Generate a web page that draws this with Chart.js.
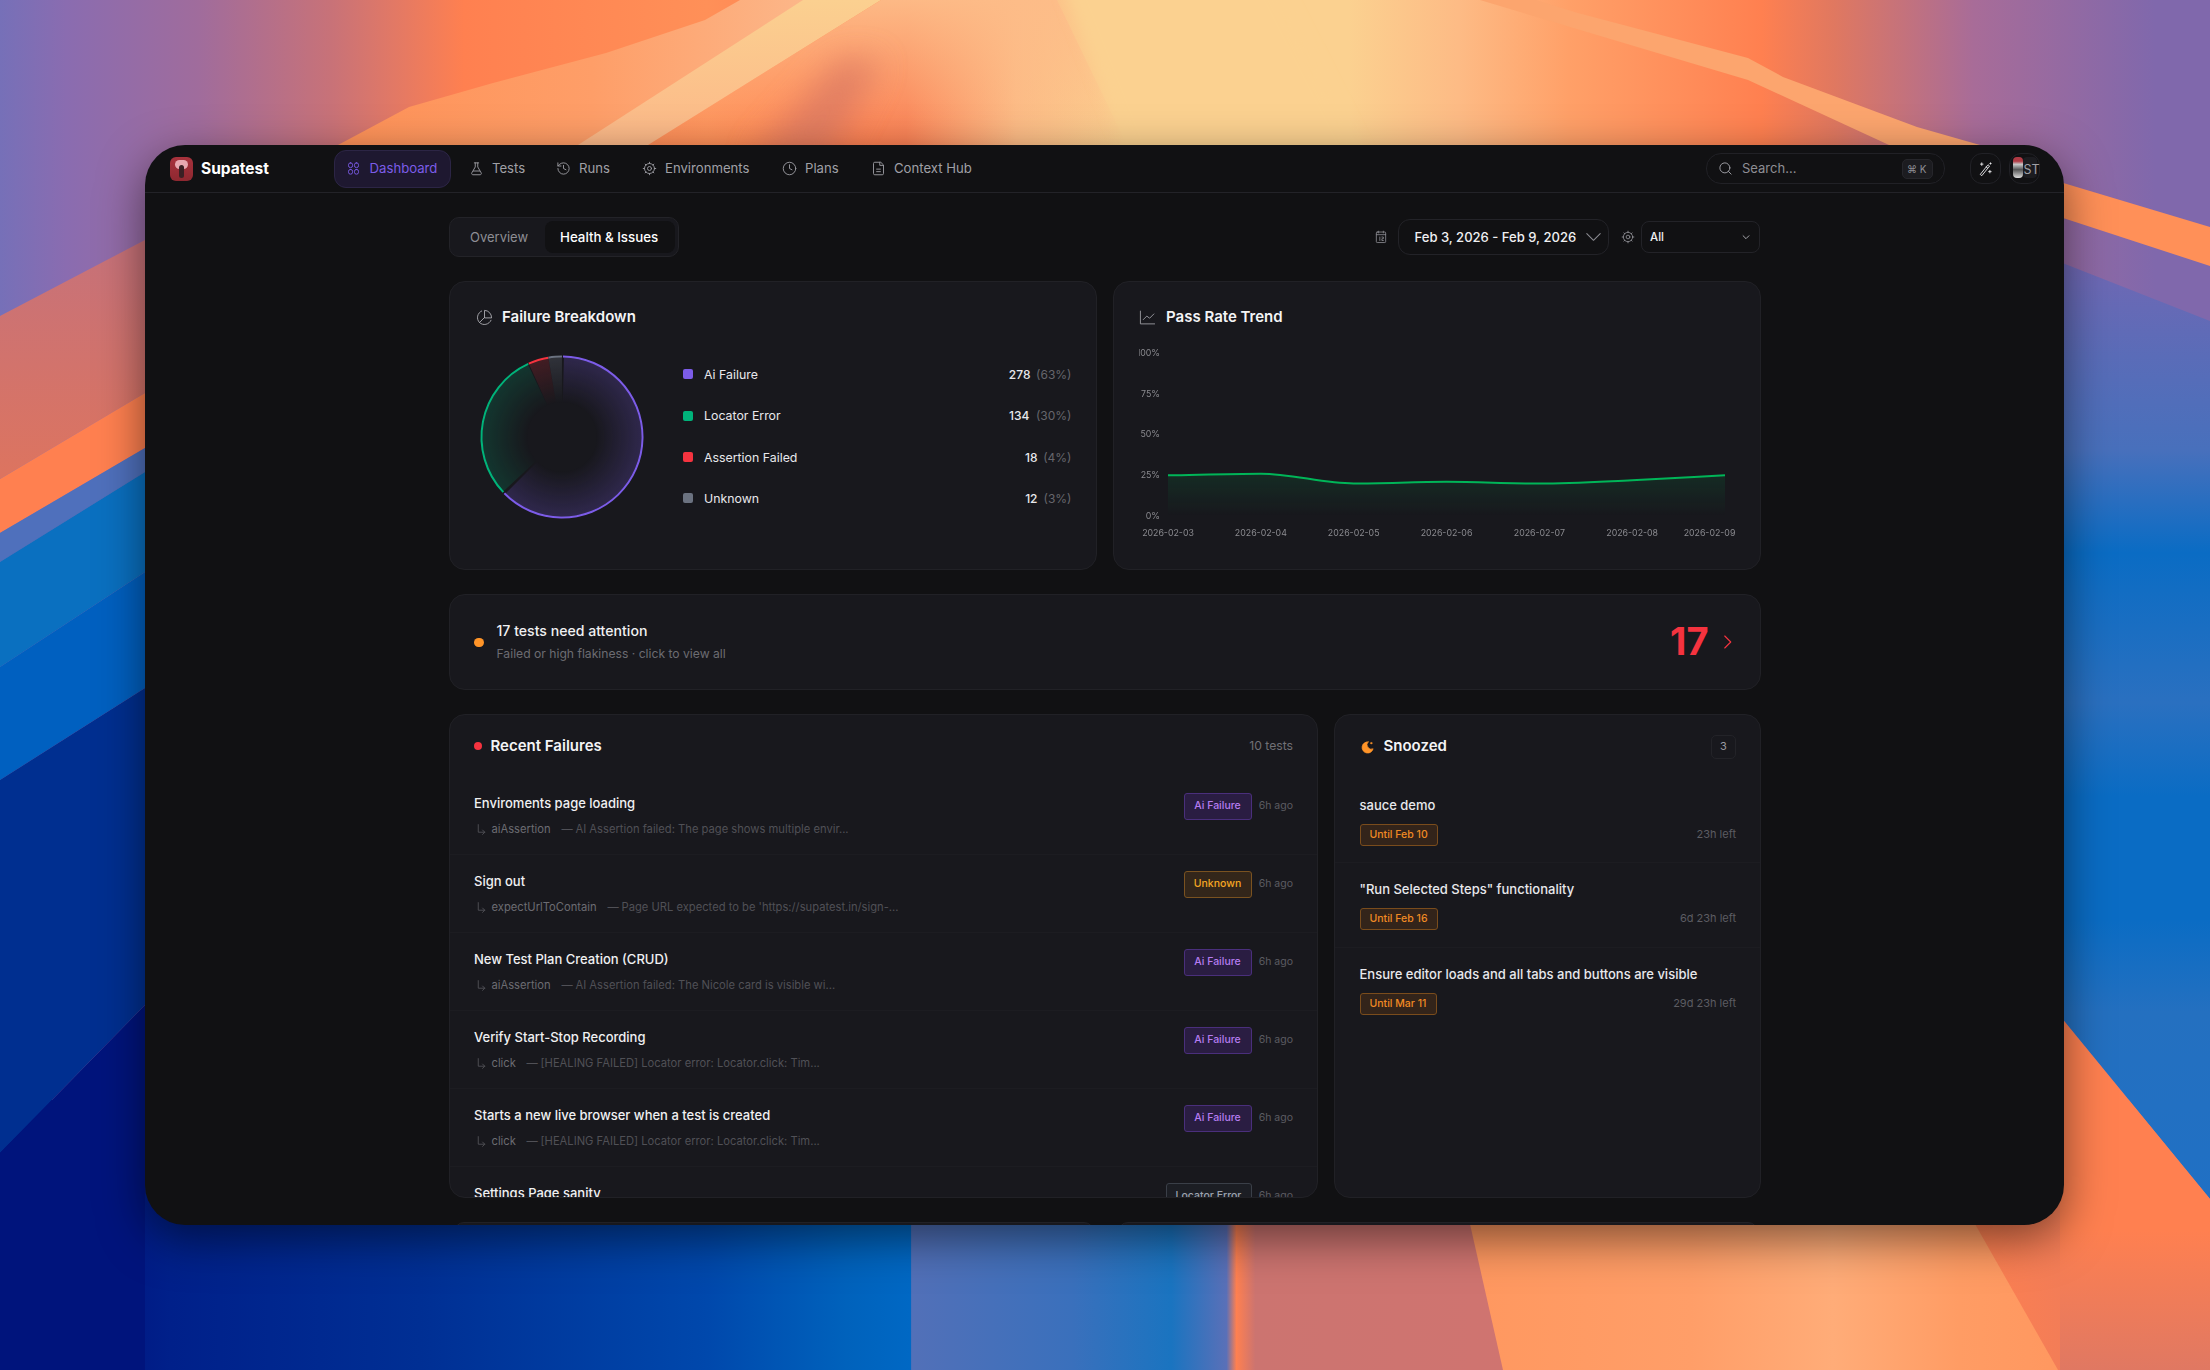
<!DOCTYPE html>
<html lang="en">
<head>
<meta charset="utf-8">
<title>Supatest - Health & Issues</title>
<script src="https://cdn.jsdelivr.net/npm/chart.js@4"></script>
<style>
  html, body { margin: 0; width: 2210px; height: 1370px; overflow: hidden; background: #111113; font-family: Inter, sans-serif; }
  #wall { position: absolute; left: 0; top: 0; }
  #page { position: absolute; left: 0; top: 0; width: 2210px; height: 1370px; }
  .box { position: absolute; box-sizing: border-box; }
  .txt { position: absolute; white-space: nowrap; transform: translateY(-50%); line-height: 1.2; }
  .ico { position: absolute; fill: none; stroke-linecap: round; stroke-linejoin: round; }
  canvas { position: absolute; }
</style>
</head>
<body>
<svg id="wall" width="2210" height="1370" viewBox="0 0 2210 1370">
  <defs>
    <filter id="soft" x="-20%" y="-20%" width="140%" height="140%"><feGaussianBlur stdDeviation="7"/></filter>
    <filter id="softer" x="-40%" y="-40%" width="180%" height="180%"><feGaussianBlur stdDeviation="16"/></filter>
    <clipPath id="topClip"><rect width="2210" height="146"/></clipPath>
    <linearGradient id="gTop" x1="0" x2="2210" y1="0" y2="0" gradientUnits="userSpaceOnUse">
      <stop offset="0" stop-color="#7670b8"/><stop offset=".03" stop-color="#8a6cb0"/>
      <stop offset=".09" stop-color="#a06c9c"/><stop offset=".15" stop-color="#c87278"/>
      <stop offset=".21" stop-color="#ff8050"/><stop offset=".32" stop-color="#ff9058"/>
      <stop offset=".38" stop-color="#ff8050"/><stop offset=".41" stop-color="#fa8054"/>
      <stop offset=".46" stop-color="#fcbb85"/><stop offset=".51" stop-color="#fbd190"/>
      <stop offset=".61" stop-color="#fbd190"/><stop offset=".66" stop-color="#fdbb85"/>
      <stop offset=".71" stop-color="#ffa068"/><stop offset=".77" stop-color="#ff8a58"/>
      <stop offset=".797" stop-color="#ff8050"/><stop offset=".83" stop-color="#e07860"/>
      <stop offset=".893" stop-color="#a86c98"/><stop offset=".975" stop-color="#8068ac"/>
      <stop offset="1" stop-color="#8068ac"/>
    </linearGradient>
    <linearGradient id="gPeach" x1="0" x2="0" y1="0" y2="145" gradientUnits="userSpaceOnUse">
      <stop offset="0" stop-color="#fdbc88" stop-opacity=".95"/><stop offset="1" stop-color="#fdbc88" stop-opacity="0"/>
    </linearGradient>
    <linearGradient id="gWedge" x1="338" x2="800" y1="0" y2="0" gradientUnits="userSpaceOnUse">
      <stop offset="0" stop-color="#ff9258"/><stop offset=".55" stop-color="#fe9e68"/><stop offset="1" stop-color="#fcb688"/>
    </linearGradient>
    <linearGradient id="gBand" x1="0" x2="0" y1="0" y2="145" gradientUnits="userSpaceOnUse">
      <stop offset="0" stop-color="#fbd090"/><stop offset="1" stop-color="#fcb888"/>
    </linearGradient>
    <linearGradient id="gBottom" x1="0" x2="2210" y1="0" y2="0" gradientUnits="userSpaceOnUse">
      <stop offset="0" stop-color="#000f78"/><stop offset=".04" stop-color="#001480"/>
      <stop offset=".077" stop-color="#00208a"/><stop offset=".19" stop-color="#002f94"/>
      <stop offset=".32" stop-color="#0048ac"/><stop offset=".383" stop-color="#0062bc"/>
      <stop offset=".412" stop-color="#0068c4"/><stop offset=".4125" stop-color="#5270b8"/>
      <stop offset=".485" stop-color="#3a70bc"/><stop offset=".53" stop-color="#1a74c0"/>
      <stop offset=".555" stop-color="#5a70b8"/><stop offset=".5595" stop-color="#ff8050"/>
      <stop offset=".568" stop-color="#cc7470"/><stop offset=".7" stop-color="#d07470"/>
      <stop offset=".89" stop-color="#ff8050"/><stop offset="1" stop-color="#e07862"/>
    </linearGradient>
    <linearGradient id="gOrange" x1="1480" x2="2050" y1="0" y2="0" gradientUnits="userSpaceOnUse">
      <stop offset="0" stop-color="#ff9860"/><stop offset=".37" stop-color="#ff9e68"/>
      <stop offset=".62" stop-color="#ffac78"/><stop offset=".84" stop-color="#ff9c64"/>
      <stop offset="1" stop-color="#ff9860"/>
    </linearGradient>
    <linearGradient id="gSalmon" x1="0" x2="0" y1="260" y2="470" gradientUnits="userSpaceOnUse">
      <stop offset="0" stop-color="#c87278"/><stop offset="1" stop-color="#dc7460"/>
    </linearGradient>
    <linearGradient id="gRightBlue" x1="0" x2="0" y1="262" y2="1200" gradientUnits="userSpaceOnUse">
      <stop offset="0" stop-color="#7068b4"/><stop offset=".1" stop-color="#5a6cb8"/>
      <stop offset=".2" stop-color="#4870bc"/><stop offset=".31" stop-color="#0a6cc4"/>
      <stop offset=".47" stop-color="#2a70c0"/><stop offset=".57" stop-color="#0a6cc4"/>
      <stop offset=".7" stop-color="#0a6cc4"/><stop offset=".8" stop-color="#2470c0"/>
      <stop offset="1" stop-color="#2070c4"/>
    </linearGradient>
    <linearGradient id="gRightOrange" x1="0" x2="0" y1="1020" y2="1370" gradientUnits="userSpaceOnUse">
      <stop offset="0" stop-color="#ff8050"/><stop offset=".6" stop-color="#ff8050"/><stop offset="1" stop-color="#e07862"/>
    </linearGradient>
  </defs>
  <rect width="2210" height="1370" fill="url(#gTop)"/>
  <rect y="1100" width="2210" height="270" fill="url(#gBottom)"/>
  <polygon points="1470,1224 1975,1224 2058,1370 1503,1370" fill="url(#gOrange)"/>

  <!-- rays above the window -->
  <polygon points="881,0 1057,0 1127,145 648,145" fill="url(#gPeach)"/>
  <polygon points="840,60 880,60 830,160 750,160" fill="#d87864" opacity=".75" filter="url(#softer)" clip-path="url(#topClip)"/>
  <polygon points="740,0 705,20 606,53 493,83 409,107 338,145 600,145 830,0" fill="url(#gWedge)"/>
  <polygon points="803,0 881,0 648,145 578,145" fill="url(#gBand)"/>
  <g clip-path="url(#topClip)"><polygon points="1057,-30 1268,-30 1370,170 1135,170" fill="#fbd190" filter="url(#soft)"/></g>
  <polygon points="1480,0 1536,0 1578,13 1748,58 1783,77 1917,127 1980,145 1889,145 1748,80" fill="#fca56e"/>

  <!-- bands left of the window -->
  <polygon points="0,316 145,240 145,393 0,479" fill="url(#gSalmon)"/>
  <polygon points="0,479 145,393 145,448 0,533" fill="#ff8050"/>
  <polygon points="0,533 145,448 145,472 0,562" fill="#4f70bc"/>
  <polygon points="0,562 145,472 145,572 0,667" fill="#0a70c0"/>
  <polygon points="0,667 145,572 145,688 0,780" fill="#0060c0"/>
  <polygon points="0,780 145,688 145,1005 0,1153" fill="#002f90"/>
  <polygon points="0,1153 145,1005 145,1370 0,1370" fill="#00147c"/>

  <!-- bands right of the window -->
  <polygon points="2060,182 2210,227 2210,266 2060,217" fill="#ff9058"/>
  <polygon points="2060,262 2210,321 2210,1199 2060,1016" fill="url(#gRightBlue)"/>
  <polygon points="2060,1016 2210,1199 2210,1370 2060,1370" fill="url(#gRightOrange)"/>
</svg>
<div id="page"></div>
<script>
// Data
const failureLabels = ["Ai Failure", "Locator Error", "Assertion Failed", "Unknown"];
const failureCounts = [278, 134, 18, 12];
const failurePercents = [63, 30, 4, 3];
const failureColors = ["#7c5ce8", "#00b37a", "#f5333f", "#6b7280"];
const failureFillAlpha = [0.24, 0.2, 0.2, 0.3];

const trendDates = ["2026-02-03", "2026-02-04", "2026-02-05", "2026-02-06", "2026-02-07", "2026-02-08", "2026-02-09"];
const trendValues = [25, 26, 20, 21, 20, 22, 25];
const trendTicks = [0, 25, 50, 75, 100];

const navLabels = ["Dashboard", "Tests", "Runs", "Environments", "Plans", "Context Hub"];

const recentTitles = ["Enviroments page loading", "Sign out", "New Test Plan Creation (CRUD)", "Verify Start-Stop Recording", "Starts a new live browser when a test is created", "Settings Page sanity"];
const recentMethods = ["aiAssertion", "expectUrlToContain", "aiAssertion", "click", "click", ""];
const recentMessages = [
  "AI Assertion failed: The page shows multiple envir...",
  "Page URL expected to be 'https://supatest.in/sign-...",
  "AI Assertion failed: The Nicole card is visible wi...",
  "[HEALING FAILED] Locator error: Locator.click: Tim...",
  "[HEALING FAILED] Locator error: Locator.click: Tim...",
  ""
];
const recentBadges = ["Ai Failure", "Unknown", "Ai Failure", "Ai Failure", "Ai Failure", "Locator Error"];

const snoozedTitles = ["sauce demo", "\"Run Selected Steps\" functionality", "Ensure editor loads and all tabs and buttons are visible"];
const snoozedUntil = ["Until Feb 10", "Until Feb 16", "Until Mar 11"];
const snoozedLeft = ["23h left", "6d 23h left", "29d 23h left"];

const page = document.getElementById("page");

// Small helpers, all coordinates are page pixels
function box(parent, x, y, w, h, css) {
  const el = document.createElement("div");
  el.className = "box";
  el.style.cssText = `left:${x}px;top:${y}px;width:${w}px;height:${h}px;${css || ""}`;
  parent.appendChild(el);
  return el;
}

function text(parent, x, cy, str, size, color, weight, rightEdge) {
  const el = document.createElement("div");
  el.className = "txt";
  el.textContent = str;
  el.style.cssText = `top:${cy}px;font-size:${size}px;color:${color};font-weight:${weight || 400};` +
    (rightEdge ? `right:${2210 - x}px;` : `left:${x}px;`);
  parent.appendChild(el);
  return el;
}

function icon(parent, x, y, size, inner, color, sw) {
  const ns = "http://www.w3.org/2000/svg";
  const el = document.createElementNS(ns, "svg");
  el.setAttribute("class", "ico");
  el.setAttribute("viewBox", "0 0 24 24");
  el.setAttribute("width", size);
  el.setAttribute("height", size);
  el.style.cssText = `left:${x}px;top:${y}px;stroke:${color};stroke-width:${sw || 1.6};`;
  el.innerHTML = inner;
  parent.appendChild(el);
  return el;
}

const icons = {
  grid: '<rect x="4" y="3" width="6.5" height="7.5" rx="3"/><rect x="13.5" y="3" width="6.5" height="7.5" rx="3"/><rect x="4" y="13.5" width="6.5" height="7.5" rx="3"/><rect x="13.5" y="13.5" width="6.5" height="7.5" rx="3"/>',
  flask: '<path d="M10 3v6.5L4.5 19a2 2 0 0 0 1.7 3h11.6a2 2 0 0 0 1.7-3L14 9.5V3M8.5 3h7M7 16h10"/>',
  history: '<path d="M3 12a9 9 0 1 0 9-9 9.75 9.75 0 0 0-6.74 2.74L3 8M3 3v5h5M12 7v5l4 2"/>',
  gear: '<circle cx="12" cy="12" r="3.2"/><circle cx="12" cy="12" r="8"/><path d="M12 2v2M12 20v2M2 12h2M20 12h2M5 5l1.4 1.4M17.6 17.6L19 19M5 19l1.4-1.4M17.6 6.4L19 5"/>',
  clock: '<circle cx="12" cy="12" r="10"/><path d="M12 6v6l4 2"/>',
  file: '<path d="M15 2H6a2 2 0 0 0-2 2v16a2 2 0 0 0 2 2h12a2 2 0 0 0 2-2V7zM14 2v5h6M9 13h6M9 17h6"/>',
  search: '<circle cx="11" cy="11" r="8"/><path d="M21 21l-4.3-4.3"/>',
  wand: '<path d="M4 21L16 6l2.5 2L6.5 23zM13 9.5l2.5 2M6 3v4M4 5h4M19 15v4M17 17h4M20 3v2M19 4h2"/>',
  calendar: '<rect x="4" y="3.5" width="16" height="18" rx="1.5"/><path d="M4 8h16M8 2v3M16 2v3M10 12v6M13.5 12h2.5v3h-2.5v3H16"/>',
  pie: '<path d="M21.2 15.9A10 10 0 1 1 8 2.8M22 12A10 10 0 0 0 12 2v10zM12 12l-7 7"/>',
  trend: '<path d="M2 3v18h20M6 15l5-5 4 3 6-6"/>',
  down: '<path d="M5 9l7 7 7-7"/>',
  right: '<path d="M9 4l8 8-8 8"/>',
  arrow: '<path d="M6 3v14h12M14 13l4 4-4 4"/>'
};

// Window
const win = box(page, 145, 145, 1919, 1080, "background:#111113;border-radius:40px;box-shadow:0 14px 46px rgba(0,0,0,.5);overflow:hidden;");
const root = box(win, -145, -145, 2210, 1370);
box(root, 145, 192, 1919, 1, "background:#232328;");

// Top bar
const logo = box(root, 170, 157, 23, 24, "border-radius:6px;background:linear-gradient(180deg,#a8323c,#8e2830);");
box(logo, 5, 3, 13, 9, "border-radius:6px;background:#e8a8b0;");
box(logo, 9, 8, 5, 13, "border-radius:3px;background:#3a2024;");
text(root, 201, 168.5, "Supatest", 15.5, "#ffffff", 700);

box(root, 333.5, 150, 117, 38, "background:#1e1830;border:1px solid #2c2545;border-radius:12px;");
const navX = [369.6, 492, 579, 665, 805, 894];
const navIconX = [346, 469, 555.5, 641.5, 781.5, 870.5];
const navIcons = ["grid", "flask", "history", "gear", "clock", "file"];
navLabels.forEach((label, i) => {
  const active = i === 0;
  icon(root, navIconX[i], 161, 15, icons[navIcons[i]], active ? "#7c5ce8" : "#9a9aa0", 1.5);
  text(root, navX[i], 169, label, 13.15, active ? "#7c5ce8" : "#a0a0a6");
});

box(root, 1705.5, 153, 239, 31, "border:1px solid #212126;border-radius:15px;");
icon(root, 1718, 161, 15, icons.search, "#9a9aa0", 1.6);
text(root, 1742, 169, "Search...", 13, "#8e8e94");
box(root, 1901.5, 159, 31, 20, "background:#1c1c20;border:1px solid #26262b;border-radius:5px;");
text(root, 1907, 169, "⌘ K", 10, "#8e8e94");
box(root, 1969.5, 153, 31, 31, "border:1px solid #212126;border-radius:12px;");
icon(root, 1978, 161, 15, icons.wand, "#e6e6ea", 1.5);
box(root, 2009, 153, 31, 31, "border:1px solid #212126;border-radius:12px;");
box(root, 2023, 157, 14, 21, "background:#1c1c20;border-radius:4px;");
box(root, 2012.5, 157, 10, 21, "background:linear-gradient(180deg,#b03a44 0,#b03a44 20%,#c8c8c8 35%,#555 60%,#ddd 100%);border-radius:4px;");
text(root, 2023.5, 168.5, "ST", 12.5, "#a0a0a6");

// Tabs and filters
box(root, 449, 217, 230, 40, "background:#18181d;border:1px solid #232328;border-radius:10px;");
box(root, 544.5, 221, 130, 32, "background:#111113;border-radius:8px;");
text(root, 470, 237.5, "Overview", 13, "#8e8e94");
text(root, 560, 237.5, "Health & Issues", 13.3, "#ffffff", 500);

icon(root, 1374, 230, 14, icons.calendar, "#8e8e94", 1.4);
box(root, 1397.5, 219, 211, 36, "border:1px solid #232328;border-radius:12px;");
text(root, 1414.5, 237.5, "Feb 3, 2026 - Feb 9, 2026", 13.05, "#f0f0f2", 500);
icon(root, 1581.5, 225, 23, icons.down, "#8e8e94", 1.05);
icon(root, 1621, 230, 14, icons.gear, "#8e8e94", 1.5);
box(root, 1641, 221, 119, 32, "border:1px solid #232328;border-radius:8px;");
text(root, 1650, 237.5, "All", 11.5, "#f0f0f2", 500);
icon(root, 1741, 232, 10, icons.down, "#c0c0c6", 2);

// Cards
const cardCss = "background:#18181d;border:1px solid #212126;border-radius:16px;";
box(root, 449, 281, 648, 289, cardCss);
box(root, 1113, 281, 648, 289, cardCss);
box(root, 449, 594, 1312, 96, cardCss);
const recentCard = box(root, 449, 714, 869, 484, cardCss + "overflow:hidden;");
box(root, 1334, 714, 427, 484, cardCss);
box(root, 454, 1222, 640, 20, cardCss);
box(root, 1118, 1222, 640, 20, cardCss);

// Failure breakdown
icon(root, 475.5, 308.5, 17, icons.pie, "#b0b0b5", 1.25);
text(root, 502, 316.5, "Failure Breakdown", 15, "#f4f4f6", 600);
const rowY = [374.8, 416.2, 457.8, 498.8];
failureLabels.forEach((label, i) => {
  box(root, 682.5, rowY[i] - 5.5, 10, 10, `background:${failureColors[i]};border-radius:2px;`);
  text(root, 704, rowY[i], label, 12.35, "#e8e8ec");
  const pct = text(root, 1071.5, rowY[i], `(${failurePercents[i]}%)`, 12, "#66666c", 400, true);
  text(root, 1071.5 - pct.offsetWidth - 6, rowY[i], String(failureCounts[i]), 12, "#e8e8ec", 500, true);
});

// Pass rate trend
icon(root, 1139, 308.5, 17, icons.trend, "#9a9aa0", 1.3);
text(root, 1166, 316.5, "Pass Rate Trend", 15, "#f4f4f6", 600);

// Attention banner
box(root, 474, 637.5, 9.5, 9.5, "background:#ff9428;border-radius:50%;");
text(root, 496.5, 630.7, "17 tests need attention", 14.1, "#f0f0f2", 500);
text(root, 496.5, 654, "Failed or high flakiness · click to view all", 12.15, "#6c6c72");
text(root, 1670, 641.5, "17", 38, "#f5333f", 700);
icon(root, 1718, 633, 18, icons.right, "#f5333f", 1.5);

// Recent failures
box(root, 474, 742, 8, 8, "background:#f5333f;border-radius:50%;");
text(root, 490.5, 746, "Recent Failures", 15, "#f4f4f6", 600);
text(root, 1293, 746, "10 tests", 12.2, "#707076", 400, true);

const badgeStyles = {
  "Ai Failure": ["#2a1d42", "#4a2f7c", "#b57cf0", 68],
  "Unknown": ["#33261a", "#7a5220", "#f5a623", 68],
  "Locator Error": ["#1c1e24", "#3a3f48", "#9ca3af", 86]
};
const recentInner = box(recentCard, -450, -715, 2210, 1370);
recentTitles.forEach((title, i) => {
  const top = 78 * i;
  if (i > 0) box(recentInner, 450, 776.3 + top, 868, 1, "background:#1c1c21;");
  text(recentInner, 474, 804 + top, title, 13, "#f0f0f2", 500);
  const st = badgeStyles[recentBadges[i]];
  const b = box(recentInner, 1251.5 - st[3], 793 + top, st[3], 26.5, `background:${st[0]};border:1px solid ${st[1]};border-radius:3px;`);
  const bt = text(b, st[3] / 2 - 1, 12, recentBadges[i], 10.5, st[2], 500);
  bt.style.transform = "translate(-50%,-50%)";
  text(recentInner, 1293, 805.7 + top, "6h ago", 10.5, "#5c5c62", 400, true);
  if (recentMethods[i]) {
    icon(recentInner, 475, 822.5 + top, 13, icons.arrow, "#55555a", 1.6);
    const m = text(recentInner, 491.5, 829.5 + top, recentMethods[i], 11.2, "#6c6c72");
    const dashX = 491.5 + m.offsetWidth + 11;
    text(recentInner, dashX, 829.5 + top, "—", 11.2, "#505056");
    text(recentInner, dashX + 14, 829.5 + top, recentMessages[i], 11.2, "#505056");
  }
});

// Snoozed
icon(root, 1360, 740, 15, '<path d="M13 3a9 9 0 1 0 8 11 7 7 0 0 1-8-11z" fill="#ff9428" stroke="#ff9428"/><circle cx="18" cy="5" r="1.2" fill="#ff9428" stroke="#ff9428"/>', "#ff9428", 1);
text(root, 1383.5, 746, "Snoozed", 15, "#f4f4f6", 600);
box(root, 1711, 735, 25, 24, "border:1px solid #232328;border-radius:5px;");
const countEl = text(root, 1723.5, 747, "3", 11, "#9a9aa0");
countEl.style.transform = "translate(-50%,-50%)";

const snoozedY = [805.8, 889.5, 974.5];
const chipY = [824, 908.3, 993.3];
const leftY = [835, 919, 1004];
snoozedTitles.forEach((title, i) => {
  if (i > 0) box(root, 1335, snoozedY[i] - 27.5, 425, 1, "background:#1c1c21;");
  text(root, 1359.5, snoozedY[i], title, 13, "#e8e8ec", 500);
  const c = box(root, 1359.5, chipY[i], i === 2 ? 77 : 78, 22, "background:#33241a;border:1px solid #7a4c1c;border-radius:3px;");
  text(c, 9, 10, snoozedUntil[i], 10.5, "#f08a24", 500);
  text(root, 1736, leftY[i], snoozedLeft[i], 11, "#5c5c62", 400, true);
});

// Charts
const pieCanvas = document.createElement("canvas");
pieCanvas.style.cssText = "left:472px;top:347px;width:180px;height:180px;";
root.appendChild(pieCanvas);

const lineCanvas = document.createElement("canvas");
lineCanvas.style.cssText = "left:1139px;top:340px;width:616px;height:210px;";
root.appendChild(lineCanvas);

// each slice fades from the rim toward the middle
function sliceGradient(ctx) {
  const chart = ctx.chart;
  const area = chart.chartArea;
  if (!area) return "transparent";
  const cx = (area.left + area.right) / 2;
  const cy = (area.top + area.bottom) / 2;
  const g = chart.ctx.createRadialGradient(cx, cy, 0, cx, cy, 81);
  const c = failureColors[ctx.dataIndex];
  const a = Math.round(failureFillAlpha[ctx.dataIndex] * 255).toString(16).padStart(2, "0");
  g.addColorStop(0, c + "00");
  g.addColorStop(0.42, c + "00");
  g.addColorStop(1, c + a);
  return g;
}

new Chart(pieCanvas, {
  type: "doughnut",
  data: {
    labels: failureLabels,
    datasets: [
      { data: failureCounts, backgroundColor: failureColors, borderWidth: 0, spacing: 1, weight: 2 },
      { data: failureCounts, backgroundColor: sliceGradient, borderWidth: 0, spacing: 1, weight: 79 }
    ]
  },
  options: {
    responsive: false,
    animation: false,
    cutout: 0,
    radius: 81,
    plugins: { legend: { display: false }, tooltip: { enabled: false } }
  }
});

// the last date label sits further left so it stays inside the card
const shiftLastLabel = {
  id: "shiftLastLabel",
  afterLayout(chart) {
    const items = chart.scales.x.getLabelItems();
    const last = items[items.length - 1];
    if (last) last.options.translation[0] -= 15.5;
  }
};

new Chart(lineCanvas, {
  type: "line",
  data: {
    labels: trendDates,
    datasets: [{
      data: trendValues,
      borderColor: "#00b558",
      borderWidth: 2,
      pointRadius: 0,
      cubicInterpolationMode: "monotone",
      fill: "origin",
      backgroundColor(ctx) {
        const { chartArea, scales } = ctx.chart;
        if (!chartArea) return "transparent";
        const g = ctx.chart.ctx.createLinearGradient(0, scales.y.getPixelForValue(26), 0, scales.y.getPixelForValue(0));
        g.addColorStop(0, "rgba(0,181,88,0.13)");
        g.addColorStop(1, "rgba(0,181,88,0)");
        return g;
      }
    }]
  },
  options: {
    responsive: false,
    animation: false,
    layout: { padding: { top: 12, right: 30, left: 0, bottom: 0 } },
    plugins: { legend: { display: false }, tooltip: { enabled: false } },
    scales: {
      x: {
        // tick marks are hidden, their length only pushes the labels down
        grid: { display: false, drawTicks: true, tickLength: 12.5 },
        border: { display: false },
        offset: false,
        afterFit(s) { s.height = 34; },
        ticks: { color: "#8b8b90", font: { family: "Inter", size: 8.8 }, padding: 0, autoSkip: false, maxRotation: 0 }
      },
      y: {
        min: 0,
        max: 100,
        afterBuildTicks(s) { s.ticks = trendTicks.map((v) => ({ value: v })); },
        grid: { display: false, drawTicks: false },
        border: { display: false },
        afterFit(s) { s.width = 29; },
        ticks: { color: "#8b8b90", font: { family: "Inter", size: 8.8 }, padding: 8, callback: (v) => v + "%" }
      }
    }
  },
  plugins: [shiftLastLabel]
});
</script>
</body>
</html>
